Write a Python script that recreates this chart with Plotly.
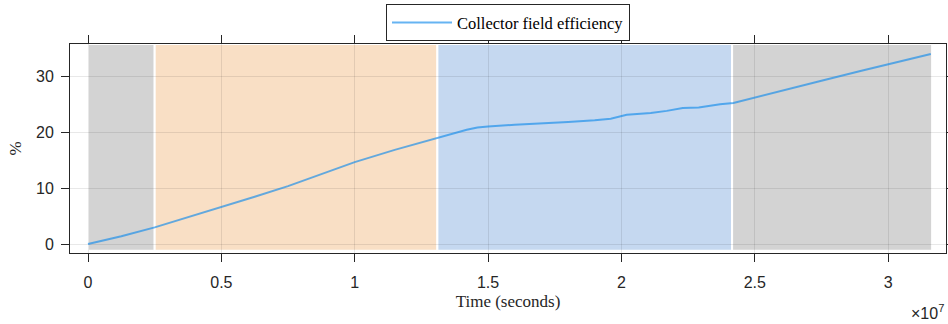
import plotly.graph_objects as go

# Line data: time (s) and collector field efficiency (%)
time_s = [0, 1.25e6, 2.5e6, 3.75e6, 5.0e6, 6.25e6, 7.5e6, 8.75e6, 1.0e7, 1.15e7, 1.3e7,
          1.36e7, 1.42e7, 1.46e7, 1.5e7, 1.6e7, 1.7e7, 1.8e7, 1.9e7, 1.96e7, 2.02e7,
          2.11e7, 2.17e7, 2.23e7, 2.29e7, 2.37e7, 2.42e7, 2.5e7, 2.6e7, 2.75e7, 2.9e7,
          3.0e7, 3.16e7]
efficiency = [0, 1.4, 3.0, 4.8, 6.6, 8.5, 10.4, 12.5, 14.7, 16.9, 18.9,
              19.8, 20.5, 20.9, 21.1, 21.4, 21.6, 21.9, 22.2, 22.5, 23.2,
              23.5, 23.9, 24.4, 24.5, 25.1, 25.3, 26.3, 27.5, 29.3, 31.1,
              32.3, 34.1]

# Shaded phases (start, end in seconds) and colours
phase_starts = [0, 2.5e6, 1.31e7, 2.415e7]
phase_ends = [2.5e6, 1.31e7, 2.415e7, 3.165e7]
phase_colors = ["#d3d3d3", "#f9dfc5", "#c5d8f0", "#d3d3d3"]

x_tickvals = [0, 0.5e7, 1.0e7, 1.5e7, 2.0e7, 2.5e7, 3.0e7]
x_ticktext = ["0", "0.5", "1", "1.5", "2", "2.5", "3"]
y_tickvals = [0, 10, 20, 30]

fig = go.Figure()

fig.add_trace(go.Scatter(
    x=time_s, y=efficiency, mode="lines", name="Collector field efficiency",
    line=dict(color="rgb(20,140,235)", width=2), opacity=0.65,
))

for s, e, c in zip(phase_starts, phase_ends, phase_colors):
    fig.add_shape(type="rect", xref="x", yref="y", x0=s, x1=e, y0=-1.2, y1=35.9,
                  fillcolor=c, line=dict(color="white", width=2), layer="below")

axis_common = dict(
    showline=True, linecolor="#262626", linewidth=1, mirror="ticks",
    ticks="outside", ticklen=8, tickcolor="#262626", tickwidth=1,
    showgrid=True, gridcolor="rgba(0,0,0,0.09)", gridwidth=1, zeroline=False,
    automargin=False,
    tickfont=dict(family="Liberation Sans, Arial, sans-serif", size=16, color="#262626"),
)

fig.update_xaxes(range=[-0.0675e7, 3.217e7], tickvals=x_tickvals, ticktext=x_ticktext,
                 ticklabelstandoff=7,
                 title=dict(text="Time (seconds)", standoff=4,
                            font=dict(family="Liberation Serif, Times New Roman, serif", size=17, color="#262626")),
                 **axis_common)
fig.update_yaxes(range=[-1.6, 35.9], tickvals=y_tickvals,
                 ticklabelstandoff=4,
                 title=dict(text="%", standoff=10,
                            font=dict(family="Liberation Serif, Times New Roman, serif", size=17, color="#262626")),
                 **axis_common)

fig.add_annotation(xref="paper", yref="paper", x=1.0, y=-0.225, xanchor="right", yanchor="top",
                   text="×10<sup>7</sup>", showarrow=False,
                   font=dict(family="Liberation Sans, Arial, sans-serif", size=16, color="#262626"))

fig.update_layout(
    width=948, height=324,
    margin=dict(l=70, r=2, t=44, b=71),
    plot_bgcolor="white", paper_bgcolor="white",
    showlegend=True,
    legend=dict(x=0.5, xanchor="center", y=1.19, yanchor="top",
                bgcolor="white", bordercolor="#262626", borderwidth=1,
                font=dict(family="Liberation Serif, Times New Roman, serif", size=16.5, color="#000000"),
                itemwidth=60, tracegroupgap=0),
)

fig.write_html("out.html", config={"displayModeBar": False},
               post_script="document.body.style.margin='0';document.body.style.overflow='hidden';")
